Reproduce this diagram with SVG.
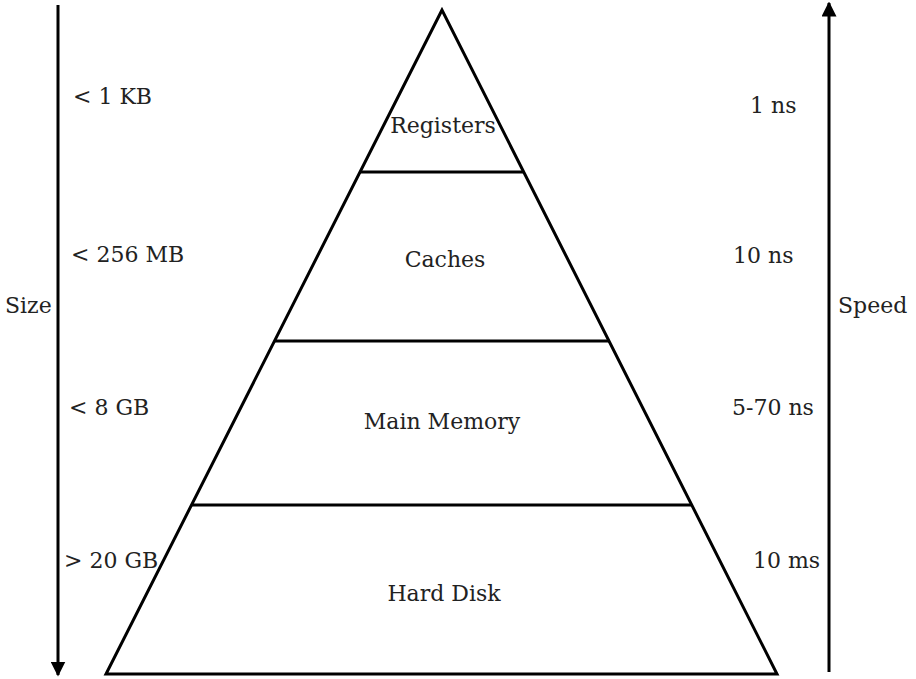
<svg xmlns="http://www.w3.org/2000/svg" width="916" height="679" viewBox="0 0 916 679">
  <style>
    text { font-family: "DejaVu Serif", "Liberation Serif", serif; font-size: 22px; fill: #222; }
    .mid { text-anchor: middle; }
    .edge { stroke: #000; stroke-width: 3; fill: none; }
    .axis { stroke: #000; stroke-width: 3; fill: none; }
  </style>
  <defs>
    <marker id="head" viewBox="0 0 10 10" refX="9" refY="5" markerWidth="5" markerHeight="5" markerUnits="strokeWidth" orient="auto">
      <path d="M0,0 L10,5 L0,10 Z" fill="#000"/>
    </marker>
  </defs>

  <!-- axes -->
  <g id="connectors">
    <line class="axis" x1="58" y1="5" x2="58" y2="675" marker-end="url(#head)"/>
    <line class="axis" x1="829" y1="672" x2="829" y2="3" marker-end="url(#head)"/>
  </g>

  <!-- pyramid outline and tier dividers -->
  <g id="pyramid">
    <polygon class="edge" points="442,10 106,674 777,674" stroke-linejoin="miter"/>
    <line class="edge" x1="360" y1="172" x2="524" y2="172"/>
    <line class="edge" x1="274" y1="341" x2="609" y2="341"/>
    <line class="edge" x1="191" y1="505" x2="692" y2="505"/>
  </g>

  <g id="registers"><text class="mid" x="443" y="133">Registers</text></g>
  <g id="caches"><text class="mid" x="445" y="267">Caches</text></g>
  <g id="main-memory"><text class="mid" x="442" y="429">Main Memory</text></g>
  <g id="hard-disk"><text class="mid" x="444" y="601">Hard Disk</text></g>

  <g id="size-labels">
    <text x="5" y="313">Size</text>
    <text x="73" y="104">&lt; 1 KB</text>
    <text x="71" y="262">&lt; 256 MB</text>
    <text x="69" y="415">&lt; 8 GB</text>
    <text x="64" y="568">&gt; 20 GB</text>
  </g>

  <g id="speed-labels">
    <text x="838" y="313">Speed</text>
    <text x="750" y="113">1 ns</text>
    <text x="733" y="263">10 ns</text>
    <text x="732" y="415">5-70 ns</text>
    <text x="753" y="568">10 ms</text>
  </g>
</svg>
